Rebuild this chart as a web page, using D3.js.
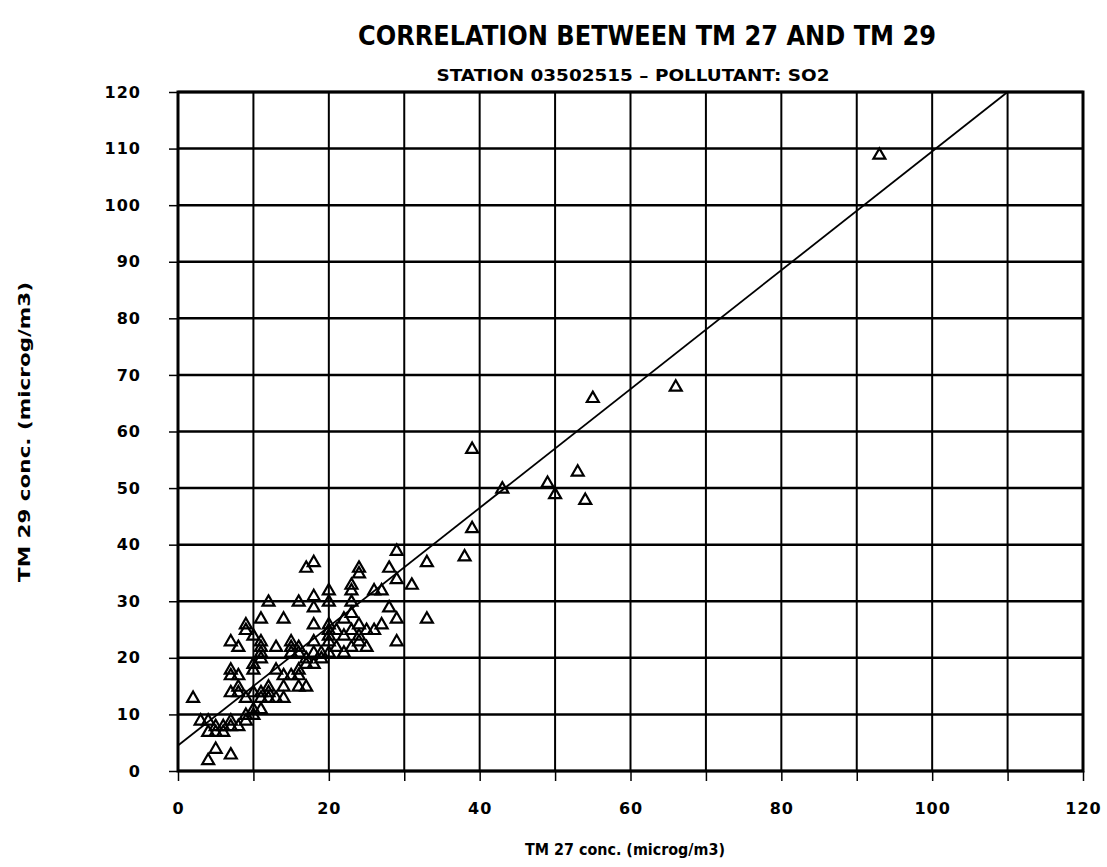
<!DOCTYPE html>
<html>
<head>
<meta charset="utf-8">
<script src="https://cdn.jsdelivr.net/npm/d3@7"></script>
<style>
  html, body { margin: 0; padding: 0; background: #fff; }
  svg { display: block; }
  text { fill: #000; font-family: "DejaVu Sans", sans-serif; font-weight: bold; }
</style>
</head>
<body>
<svg id="chart" width="1107" height="867"></svg>
<script>
// TM 27 concentrations (x) and matching TM 29 concentrations (y), microg/m3
const tm27 = [
  93, 66, 55, 39, 53, 49, 43, 50, 54, 39, 38, 33, 31, 33, 29,
  17, 18, 24, 24, 28, 29, 23, 23, 26, 27, 20, 18, 16, 12, 20,
  23, 18, 28, 29, 27, 22, 18, 20, 20, 20, 21, 23, 24, 25, 29,
  24, 24, 23, 22, 21, 20, 20, 18, 16, 17, 18, 16, 16, 17, 23,
  11, 14, 9, 9, 10, 7, 8, 11, 11, 11, 13, 15, 15, 15, 16,
  7, 7, 8, 10, 11, 10, 13, 14, 15, 17, 14, 16, 7, 8, 8,
  10, 11, 12, 12, 14, 9, 11, 12, 13, 2, 3, 4, 4, 5, 6,
  5, 6, 7, 8, 7, 9, 9, 10, 11, 10, 5, 4, 7, 19, 18,
  26, 25, 22, 19
];
const tm29 = [
  109, 68, 66, 57, 53, 51, 50, 49, 48, 43, 38, 37, 33, 27, 39,
  36, 37, 35, 36, 36, 34, 33, 32, 32, 32, 32, 31, 30, 30, 30,
  30, 29, 29, 27, 26, 27, 26, 25, 24, 26, 25, 25, 26, 25, 23,
  24, 23, 22, 21, 22, 23, 21, 21, 22, 20, 19, 18, 17, 15, 28,
  27, 27, 26, 25, 24, 23, 22, 23, 22, 21, 22, 23, 22, 21, 21,
  18, 17, 17, 19, 20, 18, 18, 17, 17, 19, 15, 15, 14, 15, 14,
  14, 14, 15, 14, 13, 13, 13, 13, 13, 13, 9, 9, 7, 7, 7,
  8, 8, 8, 8, 9, 9, 10, 11, 11, 10, 4, 2, 3, 21, 23,
  25, 22, 24, 20
];

// Fitted regression line: TM29 = intercept + slope * TM27
const fitIntercept = 4.5;
const fitSlope = 1.05;

// Axis ticks
const xTicks = [0, 20, 40, 60, 80, 100, 120];
const yTicks = [0, 10, 20, 30, 40, 50, 60, 70, 80, 90, 100, 110, 120];
const gridSteps = [0, 10, 20, 30, 40, 50, 60, 70, 80, 90, 100, 110, 120];

const titleText = "CORRELATION BETWEEN TM 27 AND TM 29";
const subtitleText = "STATION 03502515 \u2013 POLLUTANT: SO2";
const xLabel = "TM 27 conc. (microg/m3)";
const yLabel = "TM 29 conc. (microg/m3)";

const svg = d3.select("#chart");
const margin = { left: 178, right: 1107 - 1083, top: 92, bottom: 867 - 771 };
const W = 1107, H = 867;

const x = d3.scaleLinear().domain([0, 120]).range([margin.left, W - margin.right]);
const y = d3.scaleLinear().domain([0, 120]).range([H - margin.bottom, margin.top]);

// Grid lines every 10 units
const grid = svg.append("g");
grid.selectAll("line.vg").data(gridSteps).join("line")
  .attr("x1", d => x(d)).attr("x2", d => x(d))
  .attr("y1", y(0)).attr("y2", y(120))
  .attr("stroke", "#000").attr("stroke-width", 2);
grid.selectAll("line.hg").data(gridSteps).join("line")
  .attr("y1", d => y(d)).attr("y2", d => y(d))
  .attr("x1", x(0)).attr("x2", x(120))
  .attr("stroke", "#000").attr("stroke-width", 2.5);

// Frame
svg.append("rect")
  .attr("x", x(0)).attr("y", y(120))
  .attr("width", x(120) - x(0)).attr("height", y(0) - y(120))
  .attr("fill", "none").attr("stroke", "#000").attr("stroke-width", 3);

// Axes: outward ticks every 10, labels every 20 (x) / 10 (y)
const xAxis = d3.axisBottom(x).tickValues(gridSteps).tickSize(10)
  .tickFormat(d => xTicks.includes(d) ? d : "");
const gx = svg.append("g").attr("transform", `translate(0,${y(0)})`).call(xAxis);
gx.select(".domain").remove();
gx.selectAll(".tick line").attr("stroke", "#000").attr("stroke-width", 1.5);
gx.selectAll(".tick text").attr("dy", 0).attr("y", 43)
  .style("font-size", "16px").style("letter-spacing", "1px")
  .style("font-family", "DejaVu Sans, sans-serif").style("font-weight", "bold");

const yAxis = d3.axisLeft(y).tickValues(yTicks).tickSize(9).tickPadding(28);
const gy = svg.append("g").attr("transform", `translate(${x(0)},0)`).call(yAxis);
gy.select(".domain").remove();
gy.selectAll(".tick line").attr("stroke", "#000").attr("stroke-width", 1.5);
gy.selectAll(".tick text")
  .style("font-size", "16px").style("letter-spacing", "1px")
  .style("font-family", "DejaVu Sans, sans-serif").style("font-weight", "bold");

// Regression line, clipped to the plot frame
const xEnd = Math.min(120, (120 - fitIntercept) / fitSlope);
svg.append("line")
  .attr("x1", x(0)).attr("y1", y(fitIntercept))
  .attr("x2", x(xEnd)).attr("y2", y(fitIntercept + fitSlope * xEnd))
  .attr("stroke", "#000").attr("stroke-width", 1.8);

// Open triangle markers
const tri = d3.symbol().type(d3.symbolTriangle).size(62);
svg.append("g").selectAll("path").data(tm27.map((v, i) => [v, tm29[i]])).join("path")
  .attr("d", tri)
  .attr("transform", d => `translate(${x(d[0])},${y(d[1]) + 1})`)
  .attr("fill", "none")
  .attr("stroke", "#000").attr("stroke-width", 2.2);

// Titles
svg.append("text").attr("x", 647).attr("y", 45).attr("text-anchor", "middle")
  .attr("textLength", 578).attr("lengthAdjust", "spacingAndGlyphs")
  .style("font-size", "27px").text(titleText);
svg.append("text").attr("x", 633).attr("y", 81).attr("text-anchor", "middle")
  .attr("textLength", 393).attr("lengthAdjust", "spacingAndGlyphs")
  .style("font-size", "15px").text(subtitleText);

// Axis titles
svg.append("text").attr("x", 625).attr("y", 855).attr("text-anchor", "middle")
  .attr("textLength", 200).attr("lengthAdjust", "spacingAndGlyphs")
  .style("font-size", "16px").text(xLabel);
svg.append("text").attr("transform", "translate(30,432) rotate(-90)").attr("text-anchor", "middle")
  .attr("textLength", 300).attr("lengthAdjust", "spacingAndGlyphs")
  .style("font-size", "16px").text(yLabel);
</script>
</body>
</html>
